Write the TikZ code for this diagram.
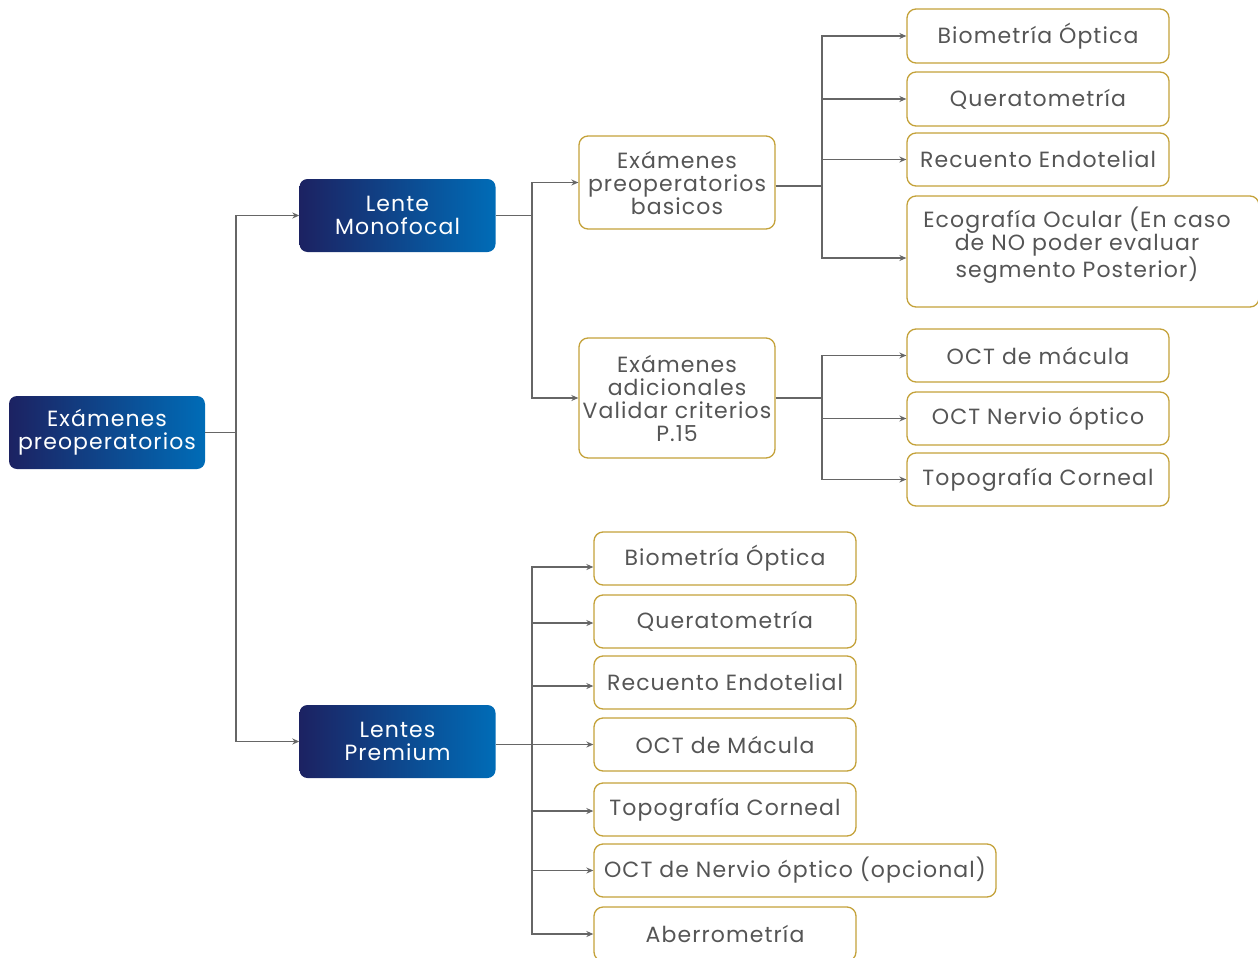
\documentclass[tikz,border=0pt]{standalone}
\usepackage{fontspec}
\setmainfont[LetterSpace=5]{Poppins}
\usetikzlibrary{arrows.meta}
\definecolor{gold}{HTML}{C4A23A}
\definecolor{txtgray}{HTML}{555555}
\definecolor{lngray}{HTML}{666666}
\definecolor{navy}{HTML}{1C2262}
\definecolor{blueR}{HTML}{006CB7}
\tikzset{
  x=1pt,y=-1pt,
  basefont/.style={font=\fontsize{22}{23}\selectfont},
  goldbox/.style={basefont, draw=gold, line width=1.3pt, rounded corners=9pt, fill=white, text=txtgray, align=center, inner sep=0pt},
  bluebox/.style={basefont, rounded corners=8pt, left color=navy, right color=blueR, text=white, align=center, inner sep=0pt, minimum width=196pt, minimum height=73pt},
  conn/.style={draw=lngray, line width=1.2pt},
  arr/.style={conn, -{Stealth[length=7pt,width=6pt]}}
}
\begin{document}
\begin{tikzpicture}
\useasboundingbox (0,0) rectangle (1258,958);
% blue boxes
\node[bluebox] (root) at (107,432.5) {Exámenes\\preoperatorios};
\node[bluebox] (mono) at (397.5,215.5) {Lente\\Monofocal};
\node[bluebox] (prem) at (397.5,741.5) {Lentes\\Premium};
% middle boxes
\node[goldbox, minimum width=196pt, minimum height=93pt] (bas) at (677,182.5) {Exámenes\\preoperatorios\\basicos};
\node[goldbox, minimum width=196pt, minimum height=120pt] (adi) at (677,398) {Exámenes\\adicionales\\Validar criterios\\P.15};
% right column
\node[goldbox, minimum width=262pt, minimum height=54pt] (r1) at (1038,36) {Biometría Óptica};
\node[goldbox, minimum width=262pt, minimum height=54pt] (r2) at (1038,99) {Queratometría};
\node[goldbox, minimum width=262pt, minimum height=53pt] (r3) at (1038,159.5) {Recuento Endotelial};
\node[goldbox, minimum width=352pt, minimum height=111pt] (r4) at (1083,251.5) {};
\node[basefont, text=txtgray, align=center] (r4t) at (1077,245) {Ecografía Ocular (En caso\\de NO poder evaluar\\segmento Posterior)};
\node[goldbox, minimum width=262pt, minimum height=53pt] (r5) at (1038,355.5) {OCT de mácula};
\node[goldbox, minimum width=262pt, minimum height=53pt] (r6) at (1038,418.5) {OCT Nervio óptico};
\node[goldbox, minimum width=262pt, minimum height=53pt] (r7) at (1038,479.5) {Topografía Corneal};
% premium column
\node[goldbox, minimum width=262pt, minimum height=53pt] (p1) at (725,558.5) {Biometría Óptica};
\node[goldbox, minimum width=262pt, minimum height=53pt] (p2) at (725,621.5) {Queratometría};
\node[goldbox, minimum width=262pt, minimum height=53pt] (p3) at (725,682.5) {Recuento Endotelial};
\node[goldbox, minimum width=262pt, minimum height=53pt] (p4) at (725,744.5) {OCT de Mácula};
\node[goldbox, minimum width=262pt, minimum height=53pt] (p5) at (725,809.5) {Topografía Corneal};
\node[goldbox, minimum width=402pt, minimum height=53pt] (p6) at (795,870.5) {OCT de Nervio óptico (opcional)};
\node[goldbox, minimum width=262pt, minimum height=54pt] (p7) at (725,934) {Aberrometría};
% junctions
\coordinate (j0) at (236,432.5);
\coordinate (j1) at (532,215.5);
\coordinate (j2) at (822,186);
\coordinate (j3) at (822,398);
\coordinate (j4) at (532,744.5);
% connectors
\draw[conn] (root.east) -- (j0);
\draw[arr] (j0) |- (mono.west);
\draw[arr] (j0) |- (prem.west);
\draw[conn] (mono.east) -- (j1);
\draw[arr] (j1) |- (bas.west);
\draw[arr] (j1) |- (adi.west);
\draw[conn] (bas.east |- j2) -- (j2);
\draw[arr] (j2) |- (r1.west);
\draw[arr] (j2) |- (r2.west);
\draw[arr] (j2) |- (r3.west);
\draw[arr] (j2) |- ([yshift=-6.5pt]r4.west);
\draw[conn] (adi.east) -- (j3);
\draw[arr] (j3) |- (r5.west);
\draw[arr] (j3) |- (r6.west);
\draw[arr] (j3) |- (r7.west);
\draw[conn] (prem.east |- j4) -- (j4);
\draw[arr] (j4) |- ([yshift=-8.5pt]p1.west);
\draw[arr] (j4) |- ([yshift=-1.5pt]p2.west);
\draw[arr] (j4) |- ([yshift=-3.5pt]p3.west);
\draw[arr] (j4) |- (p4.west);
\draw[arr] (j4) |- ([yshift=-1.5pt]p5.west);
\draw[arr] (j4) |- (p6.west);
\draw[arr] (j4) |- (p7.west);
\end{tikzpicture}
\end{document}
